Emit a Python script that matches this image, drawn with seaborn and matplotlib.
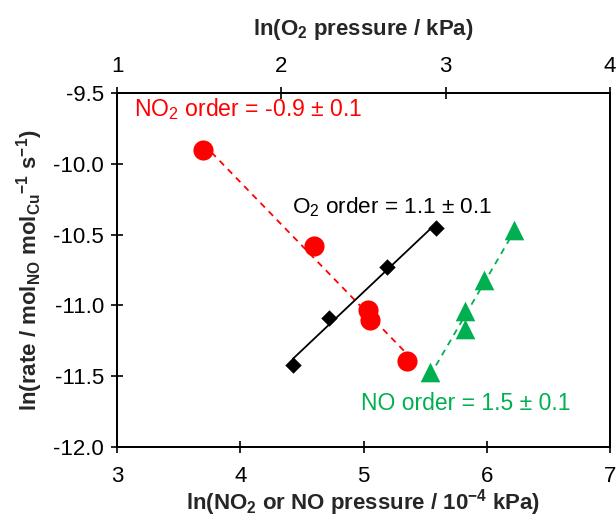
import numpy as np
import matplotlib
matplotlib.use("Agg")
import matplotlib.pyplot as plt
import seaborn as sns

# DATI

no2_ln_p = [3.70, 4.60, 5.04, 5.05, 5.35]
no2_ln_rate = [-9.90, -10.58, -11.03, -11.10, -11.39]

o2_ln_p = [2.07, 2.29, 2.64, 2.94]
o2_ln_rate = [-11.42, -11.09, -10.73, -10.45]

no_ln_p = [5.54, 5.82, 5.82, 5.98, 6.22]
no_ln_rate = [-11.47, -11.17, -11.04, -10.82, -10.47]

x_ticks_bottom = [3, 4, 5, 6, 7]
x_ticks_top = [1, 2, 3, 4]
y_ticks = [-12.0, -11.5, -11.0, -10.5, -10.0, -9.5]

rosso = "#FF0000"
verde = "#00B050"
nero = "#000000"

# STILE

sns.set_theme(style="ticks")
plt.rcParams["font.family"] = ["Liberation Sans", "DejaVu Sans"]
plt.rcParams["mathtext.default"] = "regular"
plt.rcParams["axes.unicode_minus"] = False

fig = plt.figure(figsize=(6.16, 5.18), dpi=100)
ax = fig.add_axes([117 / 616, 1 - 447 / 518, (610 - 117) / 616, (447 - 93) / 518])
ax2 = ax.twiny()

# NO2 (asse inferiore)
sns.regplot(x=np.array(no2_ln_p), y=np.array(no2_ln_rate), ax=ax, ci=None,
            marker="o", color=rosso,
            scatter_kws={"s": 210, "alpha": 1, "zorder": 3, "linewidths": 0},
            line_kws={"ls": (0, (3.5, 3)), "lw": 1.3})

# NO (asse inferiore)
sns.regplot(x=np.array(no_ln_p), y=np.array(no_ln_rate), ax=ax, ci=None,
            marker="^", color=verde,
            scatter_kws={"s": 200, "alpha": 1, "zorder": 3, "linewidths": 0},
            line_kws={"ls": (0, (3.5, 3)), "lw": 1.3})

# O2 (asse superiore)
sns.regplot(x=np.array(o2_ln_p), y=np.array(o2_ln_rate), ax=ax2, ci=None,
            marker="D", color=nero,
            scatter_kws={"s": 70, "alpha": 1, "zorder": 3, "linewidths": 0},
            line_kws={"lw": 1.3})

ax.set_xlim(3, 7)
ax.set_ylim(-12.0, -9.5)
ax2.set_xlim(1, 4)
ax2.set_ylim(-12.0, -9.5)

ax.set_xticks(x_ticks_bottom)
ax2.set_xticks(x_ticks_top)
ax.set_yticks(y_ticks)
ax.set_yticklabels([f"{v:.1f}" for v in y_ticks])

for a in (ax, ax2):
    a.tick_params(direction="inout", length=9, width=1.2, labelsize=16, colors="black", pad=5)
    for s in a.spines.values():
        s.set_visible(True)
        s.set_color("black")
        s.set_linewidth(1.3)

ax.tick_params(axis="x", pad=9)
ax2.tick_params(axis="x", pad=7)

ax.set_xlabel("ln(NO$_2$ or NO pressure / 10$^{-4}$ kPa)", fontsize=16, fontweight="bold", labelpad=0)
ax.set_ylabel("ln(rate / mol$_{NO}$ mol$_{Cu}$$^{-1}$ s$^{-1}$)", fontsize=16, fontweight="bold", labelpad=6)
ax2.set_xlabel("ln(O$_2$ pressure / kPa)", fontsize=16, fontweight="bold", labelpad=15)
ax2.set_ylabel("")

ax.text(3.14, -9.61, "NO$_2$ order = -0.9 ± 0.1", color=rosso, fontsize=16.6, va="center", ha="left")
ax.text(4.42, -10.31, "O$_2$ order = 1.1 ± 0.1", color=nero, fontsize=16.2, va="center", ha="left")
ax.text(4.98, -11.69, "NO order = 1.5 ± 0.1", color=verde, fontsize=16.5, va="center", ha="left")

fig.savefig("out.png", dpi=100)
plt.close()
